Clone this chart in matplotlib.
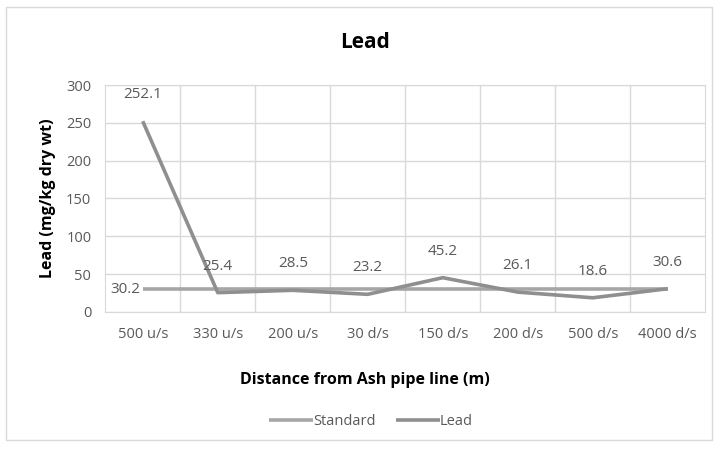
import matplotlib.pyplot as plt
from matplotlib.patches import Rectangle

plt.rcParams['font.family'] = ['Open Sans', 'DejaVu Sans']

# Dados
distancias = ['500 u/s', '330 u/s', '200 u/s', '30 d/s', '150 d/s', '200 d/s', '500 d/s', '4000 d/s']
padrao = [30.2, 30.2, 30.2, 30.2, 30.2, 30.2, 30.2, 30.2]
chumbo = [252.1, 25.4, 28.5, 23.2, 45.2, 26.1, 18.6, 30.6]

fig = plt.figure(figsize=(7.16, 4.5), dpi=100)
ax = fig.add_axes([0.147, 0.307, 0.838, 0.504])

x = list(range(len(distancias)))
ax.plot(x, padrao, color='#a6a6a6', linewidth=2.6, label='Standard', solid_capstyle='butt')
ax.plot(x, chumbo, color='#8f8f8f', linewidth=2.6, label='Lead', solid_capstyle='butt')

# rótulos
for xi, v in zip(x, chumbo):
    ax.annotate(f'{v}', (xi, v), xytext=(0, 19), textcoords='offset points',
                ha='center', va='center', fontsize=11, color='#595959')
ax.annotate(f'{padrao[0]}', (x[0], padrao[0]), xytext=(-2, 0), textcoords='offset points',
            ha='right', va='center', fontsize=11, color='#595959')

ax.set_xlim(-0.5, len(distancias) - 0.5)
ax.set_ylim(0, 300)
ax.set_yticks(range(0, 301, 50))
ax.set_xticks(x)
ax.set_xticklabels(distancias)
ax.set_xticks([i + 0.5 for i in x[:-1]], minor=True)
ax.grid(axis='y', which='major', color='#d9d9d9', linewidth=1)
ax.grid(axis='x', which='minor', color='#d9d9d9', linewidth=1)
ax.tick_params(which='both', length=0, colors='#595959', labelsize=10.5)
ax.tick_params(axis='x', pad=11)
ax.tick_params(axis='y', pad=10)
for s in ax.spines.values():
    s.set_color('#d9d9d9')
ax.set_axisbelow(True)

ax.set_ylabel('Lead (mg/kg dry wt)', fontsize=11.5, fontweight='bold', color='#000000', labelpad=7)
fig.text(0.51, 0.155, 'Distance from Ash pipe line (m)', ha='center', va='center',
         fontsize=11.5, fontweight='bold')
fig.text(0.51, 0.905, 'Lead', ha='center', va='center', fontsize=15, fontweight='bold')

ax.legend(loc='center', bbox_to_anchor=(0.443, -0.485), ncol=2, frameon=False,
          fontsize=10.5, handlelength=3.0, handletextpad=0.0, columnspacing=1.4,
          labelcolor='#595959')

fig.patches.append(Rectangle((0.009, 0.022), 0.985, 0.962, transform=fig.transFigure,
                             fill=False, edgecolor='#d9d9d9', linewidth=1))

fig.savefig('out.png', dpi=100)
